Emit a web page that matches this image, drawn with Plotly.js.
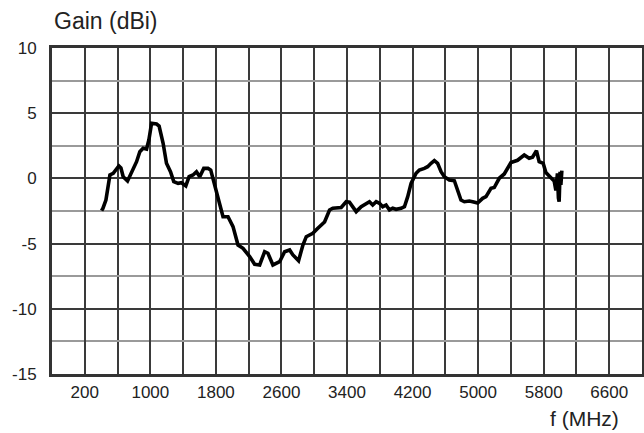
<!DOCTYPE html>
<html>
<head>
<meta charset="utf-8">
<script src="https://cdn.plot.ly/plotly-3.0.1.min.js"></script>
<style>
html,body{margin:0;padding:0;background:#fff;}
#chart{width:644px;height:433px;}
.gridlayer path, .minor-gridlayer path {shape-rendering: crispEdges;}
</style>
</head>
<body>
<div id="chart"></div>
<script>
const freqMHz = [405, 421, 458, 482, 507, 547, 580, 616, 641, 669, 722, 771, 832, 872, 912, 954, 982, 1015, 1076, 1107, 1156, 1197, 1246, 1286, 1339, 1380, 1433, 1473, 1521, 1563, 1603, 1652, 1704, 1737, 1765, 1826, 1887, 1948, 2009, 2070, 2131, 2212, 2273, 2334, 2395, 2435, 2496, 2578, 2639, 2700, 2740, 2809, 2862, 2903, 2983, 3044, 3126, 3187, 3227, 3329, 3390, 3430, 3471, 3512, 3573, 3634, 3674, 3714, 3756, 3796, 3836, 3877, 3918, 3958, 3999, 4060, 4101, 4141, 4182, 4243, 4283, 4344, 4384, 4426, 4466, 4506, 4548, 4588, 4649, 4710, 4750, 4791, 4832, 4872, 4893, 4933, 4994, 5055, 5096, 5157, 5197, 5258, 5319, 5401, 5481, 5563, 5623, 5664, 5712, 5745, 5794, 5827, 5888, 5928, 5949, 5968, 5980, 5989, 6000, 6010, 6022];
const gainDBi = [-2.48, -2.3, -1.66, -0.74, 0.26, 0.39, 0.64, 0.95, 0.80, 0.13, -0.20, 0.51, 1.28, 2.05, 2.31, 2.25, 2.94, 4.23, 4.17, 4.02, 2.69, 1.16, 0.51, -0.25, -0.38, -0.33, -0.58, 0.13, 0.26, 0.51, 0.13, 0.77, 0.77, 0.64, 0.01, -1.40, -2.94, -2.94, -3.70, -5.11, -5.36, -6.00, -6.59, -6.64, -5.62, -5.74, -6.64, -6.39, -5.62, -5.49, -5.87, -6.31, -5.11, -4.47, -4.21, -3.83, -3.34, -2.42, -2.29, -2.23, -1.79, -1.83, -2.17, -2.55, -2.17, -1.91, -1.79, -2.04, -1.79, -1.91, -2.17, -2.04, -2.42, -2.29, -2.37, -2.29, -2.17, -1.40, -0.38, 0.39, 0.64, 0.77, 0.90, 1.16, 1.36, 1.16, 0.51, 0.13, -0.12, -0.18, -0.97, -1.66, -1.79, -1.71, -1.73, -1.79, -1.89, -1.53, -1.40, -0.76, -0.70, 0.01, 0.34, 1.22, 1.39, 1.79, 1.54, 1.62, 2.12, 1.28, 1.16, 0.45, 0.07, -0.20, -0.93, 0.39, -1.5, -1.79, 0.5, -0.5, 0.59];
const xTickVals = [200, 1000, 1800, 2600, 3400, 4200, 5000, 5800, 6600];
const xTickText = ['200', '1000', '1800', '2600', '3400', '4200', '5000', '5800', '6600'];
const yTickVals = [-15, -10, -5, 0, 5, 10];
const yTickText = ['-15', '-10', '-5', '0', '5', '10'];
const yTitle = 'Gain (dBi)';
const xTitle = 'f (MHz)';

const font = 'Liberation Sans, Arial, sans-serif';
const trace = {
  x: freqMHz, y: gainDBi, type: 'scatter', mode: 'lines',
  line: {color: '#000', width: 3.6}, hoverinfo: 'skip'
};
const layout = {
  width: 644, height: 433,
  margin: {l: 52, r: 2, t: 48, b: 59},
  paper_bgcolor: '#fff', plot_bgcolor: '#fff',
  showlegend: false,
  font: {family: font, color: '#222', size: 17},
  title: {text: yTitle, xref: 'container', yref: 'container', x: 54/644, y: 1 - 21/433,
          xanchor: 'left', yanchor: 'middle', font: {size: 23, color: '#222', family: font}},
  xaxis: {
    range: [-200, 7000], tickmode: 'array', tickvals: xTickVals, ticktext: xTickText,
    showgrid: true, gridcolor: '#3a3a3a', gridwidth: 2,
    minor: {tick0: 200, dtick: 400, showgrid: true, gridcolor: '#3a3a3a', gridwidth: 2},
    showline: true, linecolor: '#333', linewidth: 3, mirror: true,
    ticks: '', ticklabelstandoff: 1, zeroline: false,
    tickfont: {size: 17, color: '#222', family: font}
  },
  yaxis: {
    range: [-15, 10], tickmode: 'array', tickvals: yTickVals, ticktext: yTickText,
    showgrid: true, gridcolor: '#3a3a3a', gridwidth: 2,
    minor: {tick0: -15, dtick: 2.5, showgrid: true, gridcolor: '#9a9a9a', gridwidth: 2},
    showline: true, linecolor: '#333', linewidth: 3, mirror: true,
    ticks: '', ticklabelstandoff: 9, zeroline: false,
    tickfont: {size: 17, color: '#222', family: font}
  },
  annotations: [
    {text: xTitle, xref: 'paper', yref: 'paper', x: 0.902, y: -0.135, xanchor: 'center', yanchor: 'middle', showarrow: false, font: {size: 21, color: '#222', family: font}}
  ]
};
Plotly.newPlot('chart', [trace], layout, {displayModeBar: false, staticPlot: true});
</script>
</body>
</html>
